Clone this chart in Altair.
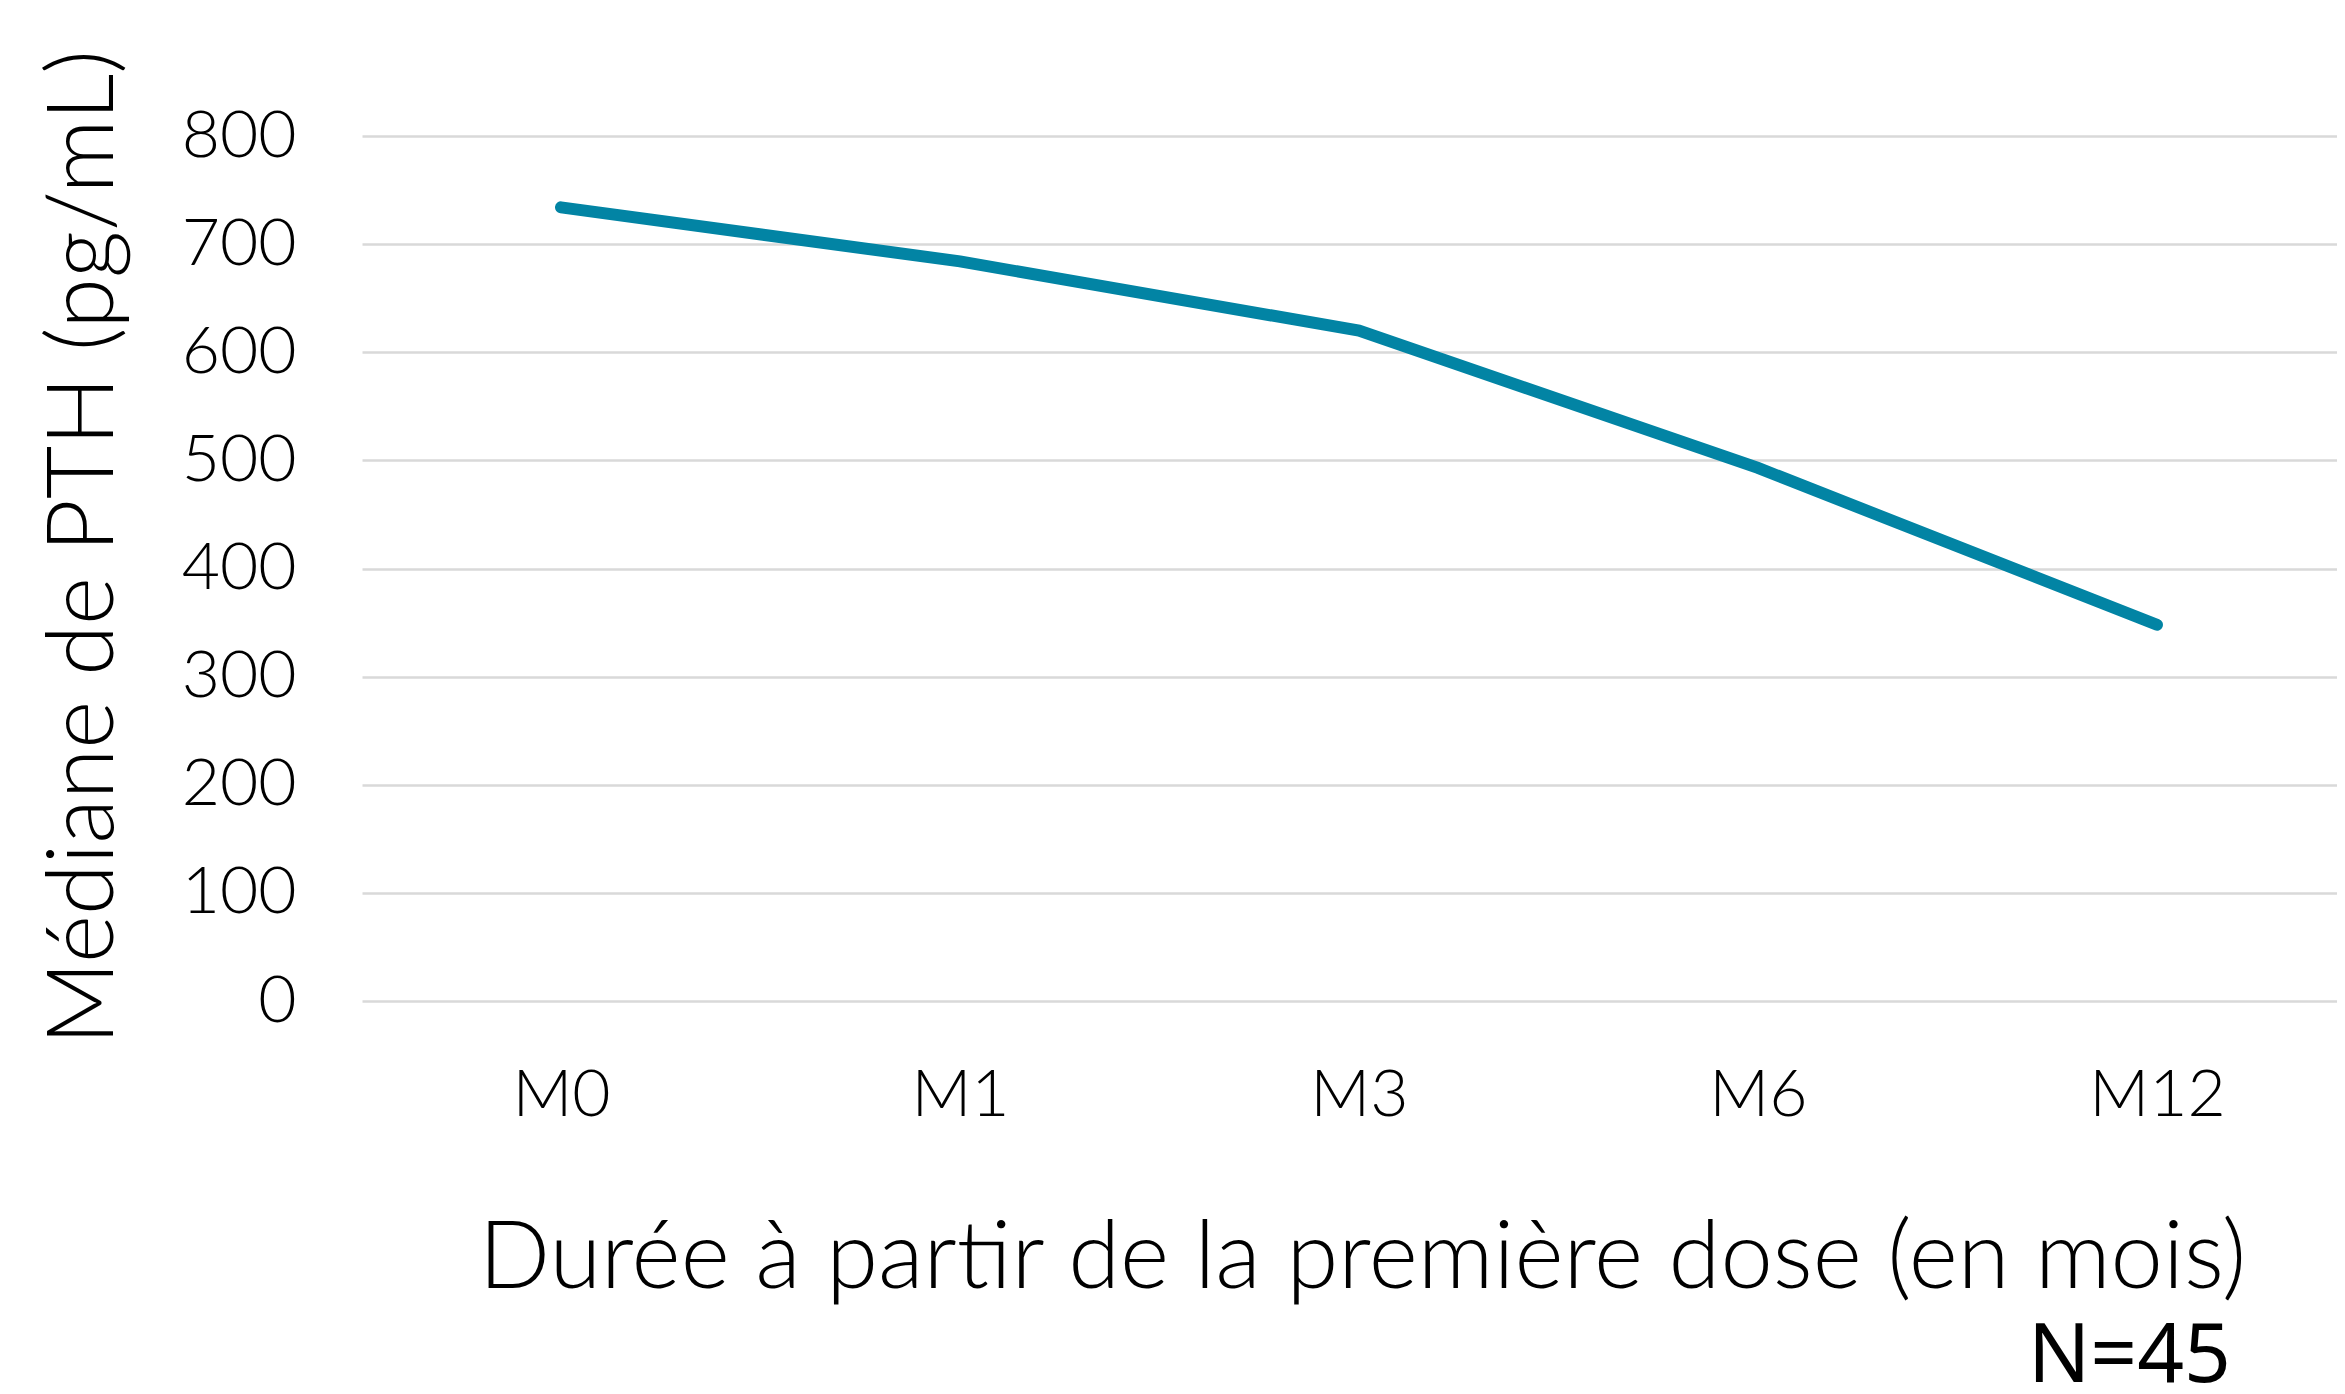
import altair as alt
import pandas as pd

months = ["M0", "M1", "M3", "M6", "M12"]
pth_median = [734, 684, 620, 493, 348]
y_ticks = [0, 100, 200, 300, 400, 500, 600, 700, 800]
note_text = ["N=45"]

df = pd.DataFrame({"mois": months, "pth": pth_median})
FONT = "Lato"

base = alt.Chart(df)

line = base.mark_line(color="#0284A4", strokeWidth=12, strokeCap="round").encode(
    x=alt.X(
        "mois:N",
        sort=months,
        scale=alt.Scale(type="point", padding=0.475, align=0.525),
        axis=alt.Axis(
            title="Durée à partir de la première dose (en mois)",
            labelFontSize=66,
            labelFont=FONT,
            labelFontWeight=300,
            labelColor="#000000",
            labelPadding=62,
            labelAngle=0,
            ticks=False,
            domain=False,
            grid=False,
            titleFont=FONT,
            titleFontWeight=300,
            titleFontSize=94,
            titleColor="#000000",
            titleBaseline="alphabetic",
            titleAnchor="start",
            titleAlign="center",
            titleX=1000,
            titleY=286,
        ),
    ),
    y=alt.Y(
        "pth:Q",
        scale=alt.Scale(domain=[0, 800], nice=False),
        axis=alt.Axis(
            values=y_ticks,
            title="Médiane de PTH (pg/mL)",
            labelFontSize=66,
            labelFont=FONT,
            labelFontWeight=300,
            labelColor="#000000",
            labelPadding=66,
            ticks=False,
            domain=False,
            gridColor="#D9D9D9",
            gridWidth=2.5,
            titleFont=FONT,
            titleFontWeight=300,
            titleFontSize=92,
            titleColor="#000000",
            titleAngle=-90,
            titleBaseline="alphabetic",
            titleAlign="center",
            titleAnchor="start",
            titleX=-250,
            titleY=411,
        ),
    ),
)

note = alt.Chart(pd.DataFrame({"t": note_text})).mark_text(
    font="Noto Sans", fontSize=82, align="right", baseline="alphabetic", color="#000000"
).encode(text="t:N", x=alt.value(1869), y=alt.value(1246))

chart = (
    alt.layer(line, note)
    .properties(
        width=1975,
        height=865,
        background="#FFFFFF",
        autosize=alt.AutoSizeParams(type="none"),
        padding={"left": 354, "top": 128, "right": 0, "bottom": 393},
    )
    .configure_view(stroke=None, strokeWidth=0)
)

chart.save("out.html", embed_options={"renderer": "svg", "actions": False})
